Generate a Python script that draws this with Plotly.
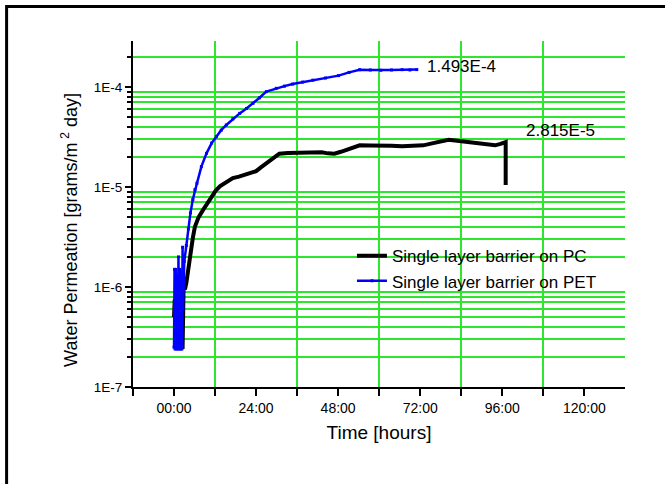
import math
import plotly.graph_objects as go

# ---------------- data ----------------
pc_hours = [0.0, 0.2, 0.4, 0.7, 1.0, 1.3, 1.6, 1.9, 2.2, 2.5, 2.8, 3.2, 3.6, 4.2, 4.8,
            5.5, 6.1, 7.2, 8.5, 9.8, 11.0, 12.2, 13.5, 15.3, 17.2, 19.0, 20.9, 22.5,
            24.0, 25.5, 27.1, 29.0, 30.8, 33.3, 35.8, 38.2, 40.7, 43.2, 45.0, 46.9,
            48.8, 50.6, 52.5, 54.3, 57.4, 60.5, 63.6, 66.7, 69.8, 72.9, 74.8, 76.6,
            78.5, 80.3, 82.2, 84.0, 86.5, 89.0, 91.5, 93.9, 95.5, 96.6, 97.0, 97.0]
pc_values = [5.0e-7, 7.5e-7, 5.5e-7, 2.5e-7, 7.0e-7, 2.4e-7, 8.0e-7, 2.4e-7, 9.0e-7,
             2.4e-7, 1.0e-6, 9.5e-7, 1.1e-6, 1.6e-6, 2.2e-6, 3.1e-6, 4.0e-6, 5.0e-6,
             5.9e-6, 7.0e-6, 8.1e-6, 9.2e-6, 1.02e-5, 1.12e-5, 1.23e-5, 1.27e-5,
             1.33e-5, 1.36e-5, 1.44e-5, 1.58e-5, 1.74e-5, 1.95e-5, 2.15e-5, 2.19e-5,
             2.20e-5, 2.22e-5, 2.20e-5, 2.22e-5, 2.17e-5, 2.15e-5, 2.25e-5, 2.36e-5,
             2.50e-5, 2.61e-5, 2.60e-5, 2.61e-5, 2.58e-5, 2.55e-5, 2.58e-5, 2.61e-5,
             2.70e-5, 2.80e-5, 2.88e-5, 2.97e-5, 2.92e-5, 2.86e-5, 2.80e-5, 2.72e-5,
             2.68e-5, 2.61e-5, 2.70e-5, 2.78e-5, 2.815e-5, 1.05e-5]

pet_hours = [0.0, 0.15, 0.3, 0.5, 0.7, 0.9, 1.1, 1.3, 1.5, 1.7, 1.9, 2.1, 2.3, 2.5,
             2.6, 3.0, 3.6, 4.2, 4.8, 5.5, 6.1, 6.7, 8.0, 9.5, 11.0, 12.4, 13.8, 15.3,
             17.2, 19.2, 21.2, 23.1, 25.0, 27.0, 29.9, 32.3, 34.7, 37.6, 40.6, 44.3,
             48.1, 51.2, 54.3, 57.4, 60.5, 63.6, 66.7, 69.0, 71.0]
pet_values = [2.5e-7, 1.5e-6, 2.4e-7, 1.5e-6, 2.4e-7, 1.3e-6, 2.4e-7, 2.0e-6, 2.4e-7,
              1.5e-6, 2.4e-7, 1.4e-6, 2.4e-7, 2.5e-6, 6.0e-7, 1.8e-6, 2.6e-6, 3.8e-6,
              5.5e-6, 7.5e-6, 9.4e-6, 1.09e-5, 1.6e-5, 2.17e-5, 2.75e-5, 3.19e-5,
              3.7e-5, 4.17e-5, 4.8e-5, 5.45e-5, 6.1e-5, 6.87e-5, 7.8e-5, 8.98e-5,
              9.7e-5, 1.02e-4, 1.07e-4, 1.12e-4, 1.17e-4, 1.23e-4, 1.30e-4, 1.40e-4,
              1.49e-4, 1.48e-4, 1.47e-4, 1.48e-4, 1.49e-4, 1.48e-4, 1.493e-4]

series_names = ["Single layer barrier on PC", "Single layer barrier on PET"]
end_labels = ["2.815E-5", "1.493E-4"]

x_tick_hours = [0, 24, 48, 72, 96, 120]
x_tick_labels = ["00:00", "24:00", "48:00", "72:00", "96:00", "120:00"]
y_tick_values = [1e-7, 1e-6, 1e-5, 1e-4]
y_tick_labels = ["1E-7", "1E-6", "1E-5", "1E-4"]

# ---------------- figure ----------------
FONT = "Liberation Sans, Arial, sans-serif"
GREEN = "#2ee62e"

fig = go.Figure()
fig.add_trace(go.Scatter(x=pc_hours, y=pc_values, mode="lines", name=series_names[0],
                         line=dict(color="black", width=4)))
fig.add_trace(go.Scatter(x=pet_hours, y=pet_values, mode="lines+markers", name=series_names[1],
                         line=dict(color="#0000ff", width=2.5),
                         marker=dict(symbol="square", size=3, color="#0000ff")))

y_minor_vals = [k * 10 ** e for e in range(-7, -3) for k in range(2, 10) if k * 10 ** e < 2.85e-4]

fig.update_xaxes(range=[-12, 131.9], showline=True, linecolor="black", linewidth=2,
                 zeroline=False, showgrid=False, tickmode="array",
                 tickvals=x_tick_hours, ticktext=x_tick_labels,
                 ticks="outside", ticklen=7, tickwidth=2, tickcolor="black",
                 tickfont=dict(family=FONT, size=14, color="black"),
                 minor=dict(tick0=12, dtick=24, ticks="outside", ticklen=7, tickwidth=2,
                            tickcolor="black", showgrid=True, gridcolor=GREEN, gridwidth=2),
                 title=dict(text="Time [hours]", font=dict(family=FONT, size=19, color="black"),
                            standoff=11))
fig.update_yaxes(type="log", range=[-7, -3.54], showline=True, linecolor="black", linewidth=2,
                 zeroline=False, showgrid=False, tickmode="array",
                 tickvals=y_tick_values, ticktext=y_tick_labels,
                 ticks="outside", ticklen=6, tickwidth=2, tickcolor="black",
                 tickfont=dict(family=FONT, size=13.5, color="black"),
                 minor=dict(tickmode="array", tickvals=y_minor_vals, ticks="outside",
                            ticklen=4, tickwidth=2, tickcolor="black",
                            showgrid=True, gridcolor=GREEN, gridwidth=2))

# y-axis title (placed like the reference, slightly below the axis centre)
fig.add_annotation(xref="paper", yref="paper", x=-0.128, y=0.454, textangle=-90,
                   text="Water Permeation [grams/m<sup> 2</sup> day]", showarrow=False,
                   xanchor="center", yanchor="middle",
                   font=dict(family=FONT, size=18, color="black"))

# end-value labels
fig.add_annotation(x=73.5, y=math.log10(1.6e-4), text=end_labels[1], showarrow=False,
                   xanchor="left", yanchor="middle", font=dict(family=FONT, size=17, color="black"))
fig.add_annotation(x=102.4, y=math.log10(3.7e-5), text=end_labels[0], showarrow=False,
                   xanchor="left", yanchor="middle", font=dict(family=FONT, size=17, color="black"))

# outer frame of the figure
fig.add_shape(type="rect", xref="paper", yref="paper", x0=-0.2569, x1=1.12, y0=-0.32, y1=1.0997,
              line=dict(color="black", width=3), fillcolor="rgba(0,0,0,0)", layer="above")

fig.update_layout(width=665, height=484, margin=dict(l=133, r=40, t=41, b=97),
                  paper_bgcolor="white", plot_bgcolor="white",
                  font=dict(family=FONT, color="black"),
                  legend=dict(x=0.445, y=0.43, xanchor="left", yanchor="top",
                              bgcolor="rgba(0,0,0,0)", borderwidth=0,
                              font=dict(family=FONT, size=17, color="black"),
                              itemwidth=30, tracegroupgap=0))

fig.write_html("out.html", config={"displayModeBar": False},
               post_script="document.body.style.margin='0px';")
